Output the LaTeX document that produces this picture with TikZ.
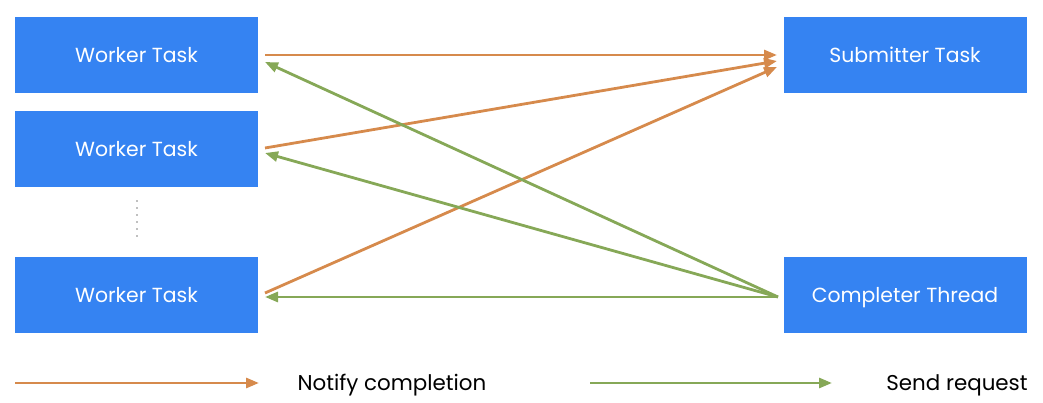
\documentclass[tikz,border=0pt]{standalone}
\usepackage{fontspec}
\setmainfont{Poppins}
\usetikzlibrary{arrows.meta}
\definecolor{boxblue}{HTML}{3583F2}
\definecolor{notify}{HTML}{D68A4C}
\definecolor{sendreq}{HTML}{86A857}
\begin{document}
\begin{tikzpicture}[x=1pt,y=-1pt,
  box/.style={fill=boxblue,draw=none,minimum width=243pt,minimum height=76pt,text=white,font=\fontsize{20.4}{24}\selectfont,inner sep=0pt,text height=15pt,text depth=0pt},
  narrow/.style={draw=notify,line width=2.8pt,-{Triangle[length=13pt,width=10pt]}},
  garrow/.style={draw=sendreq,line width=2.8pt,-{Triangle[length=13pt,width=10pt]}},
  legend/.style={font=\fontsize{21.4}{25}\selectfont,text=black,text height=15pt,text depth=0pt}]
\useasboundingbox (0,0) rectangle (1043,403);
\node[box] (w1) at (136.5,55) {Worker Task};
\node[box] (w2) at (136.5,149) {Worker Task};
\node[box] (w3) at (136.5,295) {Worker Task};
\node[box] (sub) at (905,55) {Submitter Task};
\node[box] (comp) at (905,295) {Completer Thread};
\coordinate (w1o) at (265,55);
\coordinate (w1i) at (265,62);
\coordinate (w2o) at (265,148);
\coordinate (w2i) at (265,153);
\coordinate (w3o) at (265,293);
\coordinate (w3i) at (265,297);
\coordinate (s1) at (777,55);
\coordinate (s2) at (777,61);
\coordinate (s3) at (777,67);
\coordinate (c) at (778,297);
\draw[narrow] (w1o) -- (s1);
\draw[narrow] (w2o) -- (s2);
\draw[narrow] (w3o) -- (s3);
\draw[garrow] (c) -- (w1i);
\draw[garrow] (c) -- (w2i);
\draw[garrow] (c) -- (w3i);
\draw[gray,line width=1.8pt,dash pattern=on 0pt off 7pt,line cap=round] (137,201) -- (137,243);
\coordinate (l1a) at (15,383);
\coordinate (l1b) at (259,383);
\coordinate (l2a) at (590,383);
\coordinate (l2b) at (832,383);
\draw[narrow] (l1a) -- (l1b);
\draw[garrow] (l2a) -- (l2b);
\node[legend] (t1) at (392,383) {Notify completion};
\node[legend] (t2) at (957,383) {Send request};
\end{tikzpicture}
\end{document}
